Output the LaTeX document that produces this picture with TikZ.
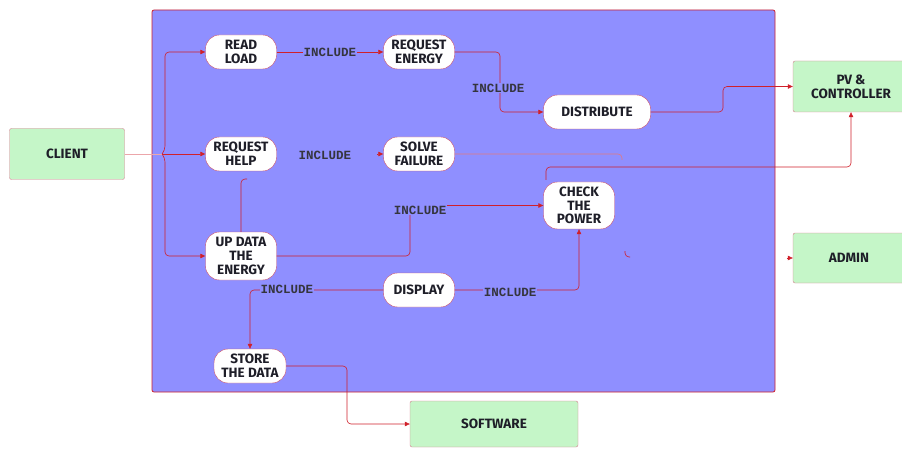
\documentclass[tikz,border=0pt]{standalone}
\usepackage{fontspec}
\setmainfont{Fira Sans}
\newfontfamily\incfont{Liberation Mono}
\usetikzlibrary{arrows.meta,positioning}
\definecolor{ucblue}{HTML}{8F8FFF}
\definecolor{ucred}{HTML}{D0202A}
\definecolor{ucgreen}{HTML}{C5F6C8}
\definecolor{ucedge}{HTML}{C8506A}
\definecolor{ucink}{HTML}{1E1E28}
\tikzset{
  systemBox/.style={draw=ucred, fill=ucblue, rounded corners=2pt, line width=0.8pt},
  useCase/.style={draw=ucedge, fill=white, rounded corners=14pt, align=center, inner sep=1pt, minimum width=71pt, minimum height=34pt, font=\bfseries\fontsize{13.5}{13.8}\selectfont, text=ucink},
  actorBox/.style={draw=ucedge!75, fill=ucgreen, rounded corners=2pt, align=center, inner sep=2pt, minimum height=51pt, font=\bfseries\fontsize{13.5}{14}\selectfont, text=ucink},
  flowArrow/.style={-{Triangle[length=5pt,width=4.5pt]}, draw=ucred, line width=0.6pt, rounded corners=4pt},
  flowLine/.style={draw=ucred, line width=0.6pt, rounded corners=4pt},
  incLabel/.style={font=\incfont\bfseries\fontsize{12.5}{12.5}\selectfont, text=ucink!90, fill=ucblue, inner sep=1pt}
}
\begin{document}
\begin{tikzpicture}[x=1pt, y=-1pt]
  \useasboundingbox (0,0) rectangle (902,449);
  \path[systemBox] (152,10) rectangle (775,392);

  \node[actorBox, minimum width=115pt] (client) at (67,154) {CLIENT};
  \node[actorBox, minimum width=116pt] (pv) at (851,86.5) {PV \&\\ CONTROLLER};
  \node[actorBox, minimum width=112pt, minimum height=50pt] (admin) at (849,258) {ADMIN};
  \node[actorBox, minimum width=168pt, minimum height=46pt] (software) at (494,424) {SOFTWARE};

  \node[useCase] (readload) at (241,52) {READ\\ LOAD};
  \node[useCase] (reqenergy) at (419,52) {REQUEST\\ ENERGY};
  \node[useCase] (reqhelp) at (241,154) {REQUEST\\ HELP};
  \node[useCase] (solve) at (419,154) {SOLVE\\ FAILURE};
  \node[useCase, minimum width=107pt] (distribute) at (597,112) {DISTRIBUTE};
  \node[useCase, minimum height=47pt] (check) at (579,205.5) {CHECK\\ THE\\ POWER};
  \node[useCase, minimum height=48pt] (updata) at (241,256) {UP DATA\\ THE\\ ENERGY};
  \node[useCase] (display) at (419,290) {DISPLAY};
  \node[useCase, minimum width=72pt] (store) at (250,366) {STORE\\ THE DATA};

  \coordinate (clientFork) at (162,154);
  \coordinate (solveStub) at (622,160);
  \coordinate (helpStub) at (247,179);
  \coordinate (checkStub) at (546,180);
  \coordinate (adminStub) at (625,251);

  \draw[flowLine, draw=ucred!40] (client.east) -- (clientFork);
  \draw[flowArrow] (clientFork) -- ++(3,-4) |- (readload.west);
  \draw[flowArrow] (clientFork) -- ++(3,4) |- (updata.west);
  \draw[flowArrow] (clientFork) -- (reqhelp.west);
  \draw[flowArrow] (readload) -- (reqenergy);
  \draw[flowArrow] (reqenergy.east) -| (500,80) |- (distribute.west);
  \draw[flowArrow] (distribute.east) -| (723,100) |- (pv.west);
  \draw[flowArrow] ([xshift=-6pt]solve.west) -- (solve.west);
  \draw[flowLine, draw=ucred!60] (solve.east) -| (solveStub);
  \draw[flowLine] (updata.north) |- (helpStub);
  \draw[flowArrow] (checkStub) -- (546,167) -| (pv.south);
  \draw[flowArrow] (updata.east) -| (410,230) |- (check.west);
  \draw[flowArrow] (display.west) -| (store.north);
  \draw[flowArrow] (display.east) -| (check.south);
  \draw[flowArrow] (store.east) -| (347,400) |- (software.west);
  \draw[flowLine] (adminStub) |- (630,257);
  \draw[flowArrow] ([xshift=-6pt]admin.west) -- (admin.west);

  \node[incLabel] (inc1) at (330,52) {INCLUDE};
  \node[incLabel, fill=none] (inc2) at (325,155) {INCLUDE};
  \node[incLabel] (inc3) at (498,88) {INCLUDE};
  \node[incLabel] (inc4) at (420,210) {INCLUDE};
  \node[incLabel] (inc5) at (287,289) {INCLUDE};
  \node[incLabel] (inc6) at (510,292) {INCLUDE};
\end{tikzpicture}
\end{document}
